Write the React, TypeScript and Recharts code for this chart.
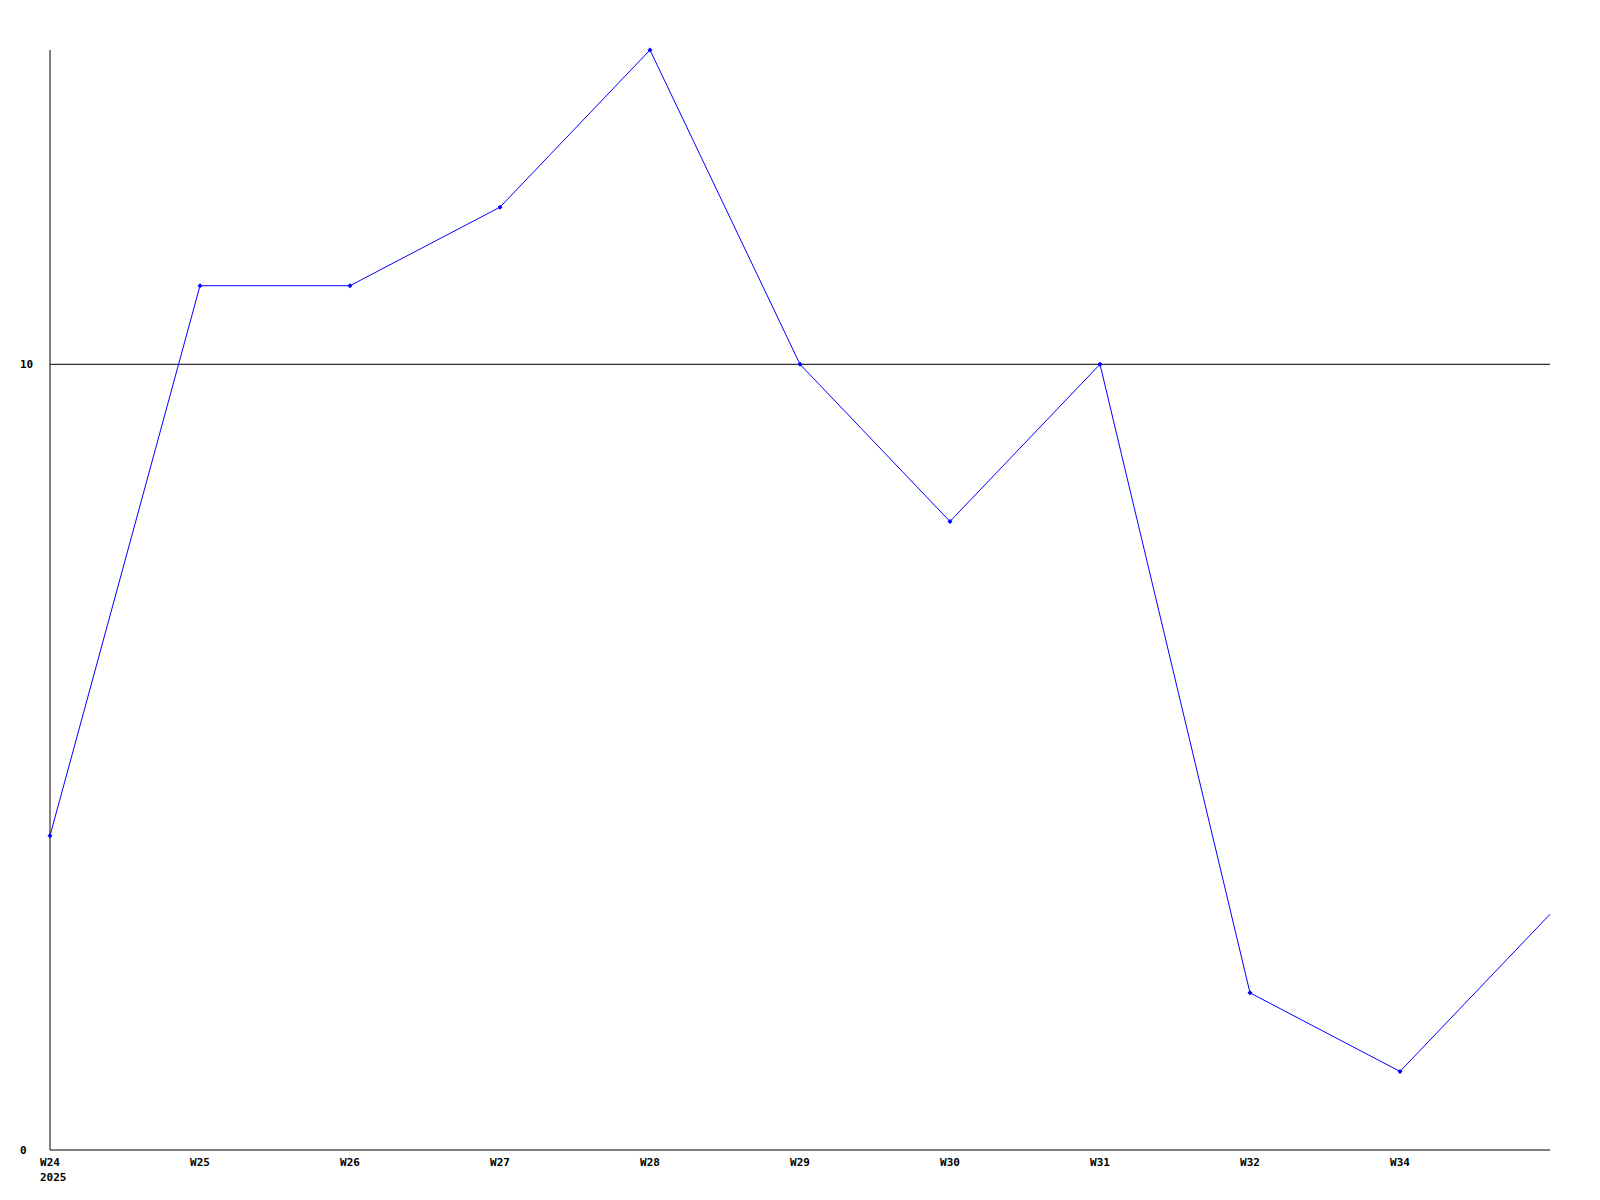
import { LineChart, Line, XAxis, YAxis, ReferenceLine } from "recharts";

const weeks = ["W24", "W25", "W26", "W27", "W28", "W29", "W30", "W31", "W32", "W34", ""];
const counts = [4, 11, 11, 12, 14, 10, 8, 10, 2, 1, 3];
const yTicks = [0, 10];
const yearLabel = "2025";

const data = weeks.map((week, i) => ({ week, count: counts[i] }));

const FONT = "'DejaVu Sans Mono', monospace";

function XTick(props: any) {
  const { x, y, payload, index } = props;
  return (
    <g>
      <text x={x} y={y + 8} textAnchor="middle" fontFamily={FONT} fontWeight="bold" fontSize={11} fill="#000">
        {payload.value}
      </text>
      {index === 0 && (
        <text x={x - 10} y={y + 23} textAnchor="start" fontFamily={FONT} fontWeight="bold" fontSize={11} fill="#000">
          {yearLabel}
        </text>
      )}
    </g>
  );
}

function YTick(props: any) {
  const { y, payload } = props;
  return (
    <text x={20} y={y + 4} textAnchor="start" fontFamily={FONT} fontWeight="bold" fontSize={11} fill="#000">
      {payload.value}
    </text>
  );
}

function Diamond(props: any) {
  const { cx, cy, index } = props;
  if (cx == null || cy == null || index === weeks.length - 1) return null;
  return <path d={`M${cx},${cy - 2.5}L${cx + 2.5},${cy}L${cx},${cy + 2.5}L${cx - 2.5},${cy}Z`} fill="#0000ff" stroke="none" />;
}

export default function App() {
  return (
    <div style={{ position: "absolute", top: 0, left: 0, background: "#fff" }}>
      <LineChart width={1600} height={1200} data={data} margin={{ top: 50, right: 50, bottom: 0, left: 0 }}>
        <XAxis
          dataKey="week"
          interval={0}
          height={50}
          tickLine={false}
          axisLine={{ stroke: "#000" }}
          tick={<XTick />}
        />
        <YAxis
          width={50}
          domain={[0, 14]}
          ticks={yTicks}
          tickLine={false}
          axisLine={{ stroke: "#000" }}
          tick={<YTick />}
        />
        <ReferenceLine y={10} stroke="#000" strokeWidth={1} />
        <Line
          type="linear"
          dataKey="count"
          stroke="#0000ff"
          strokeWidth={1}
          dot={<Diamond />}
          activeDot={false}
          isAnimationActive={false}
        />
      </LineChart>
    </div>
  );
}
